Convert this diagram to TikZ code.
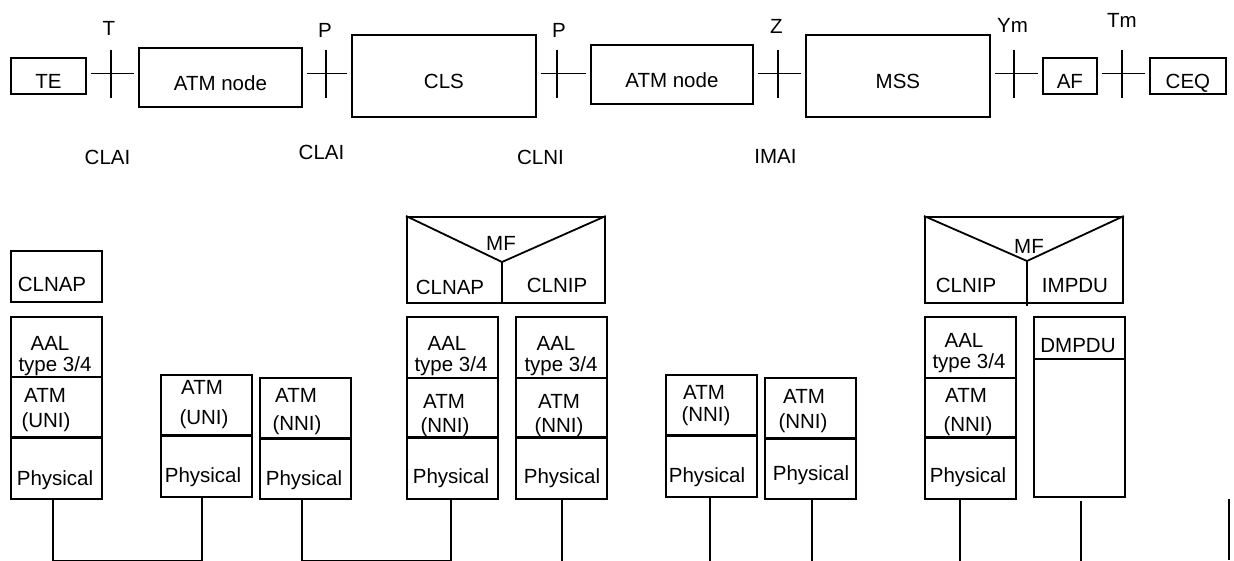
\documentclass[tikz,border=0pt]{standalone}
\usepackage{fontspec}
\setmainfont{Liberation Sans}
\begin{document}
\begin{tikzpicture}[x=1pt, y=-1pt, line width=1.8pt,
  font=\fontsize{20.5}{24}\selectfont,
  unit/.style={draw, anchor=north west, inner sep=0pt, text height=26pt, text depth=0pt},
  layer/.style={draw, anchor=north west, inner sep=0pt, minimum width=91pt},
  lbl/.style={inner sep=0pt, anchor=base}]
\useasboundingbox (0,0) rectangle (1234,560);

% reference configuration
\node[unit, minimum width=75pt, minimum height=36pt] (te) at (10,57) {TE};
\node[unit, minimum width=163pt, minimum height=59pt] (atma) at (138,47) {ATM node};
\node[unit, minimum width=184pt, minimum height=82pt] (cls) at (351,34) {CLS};
\node[unit, minimum width=162pt, minimum height=59pt] (atmb) at (590,44) {ATM node};
\node[unit, minimum width=184pt, minimum height=82pt] (mss) at (805,34) {MSS};
\node[unit, minimum width=54pt, minimum height=36pt] (af) at (1042,57) {AF};
\node[unit, minimum width=76pt, minimum height=36pt] (ceq) at (1149,57) {CEQ};

\coordinate (rt) at (111,73.5);
\coordinate (rpa) at (326,73.5);
\coordinate (rpb) at (557,73.5);
\coordinate (rz) at (778,73.5);
\coordinate (rym) at (1014,73.5);
\coordinate (rtm) at (1122,73.5);
\foreach \a/\b/\p in {te/atma/rt, atma/cls/rpa, cls/atmb/rpb, atmb/mss/rz, mss/af/rym, af/ceq/rtm} {
  \draw ([xshift=4pt]\a.east |- \p) -- ([xshift=-4pt]\b.west |- \p);
  \draw (\p) ++(0,-24) -- ++(0,48);
}

\node[lbl] (tlab) at (109,35) {T};
\node[lbl] (palab) at (325,37) {P};
\node[lbl] (pblab) at (559,37) {P};
\node[lbl] (zlab) at (776.5,33) {Z};
\node[lbl] (ymlab) at (1012.5,32) {Ym};
\node[lbl] (tmlab) at (1122,27) {Tm};
\node[lbl] (claia) at (107.5,164) {CLAI};
\node[lbl] (claib) at (321.5,159) {CLAI};
\node[lbl] (clni) at (540.5,164) {CLNI};
\node[lbl] (imai) at (775.5,163) {IMAI};

% TE stack
\node[layer, minimum height=51pt] (clnapa) at (10,250) {};
\node[layer, minimum height=60pt] (aal1) at (10,316) {};
\node[layer, minimum height=61pt] (atm1) at (10,376) {};
\node[layer, minimum height=61pt] (phy1) at (10,437) {};
\node[lbl] (clnapat) at (52,291) {CLNAP};
\node[lbl] (aal1t) at (50,350) {AAL};
\node[lbl] (typ1t) at (55,371) {type 3/4};
\node[lbl] (atm1t) at (45,402) {ATM};
\node[lbl] (uni1t) at (46,427) {(UNI)};
\node[lbl] (phy1t) at (55,485) {Physical};

% ATM node (UNI/NNI)
\node[layer, minimum height=61pt] (atm2) at (160,374) {};
\node[layer, minimum height=61pt] (phy2) at (160,435) {};
\node[lbl] (atm2t) at (202,394) {ATM};
\node[lbl] (uni2t) at (204,424) {(UNI)};
\node[lbl] (phy2t) at (203,482) {Physical};
\node[layer, minimum height=61pt] (atm3) at (259,377) {};
\node[layer, minimum height=60pt] (phy3) at (259,438) {};
\node[lbl] (atm3t) at (296,402) {ATM};
\node[lbl] (nni3t) at (297,430) {(NNI)};
\node[lbl] (phy3t) at (304,485) {Physical};

% CLS
\node[layer, minimum width=198pt, minimum height=86pt] (mfa) at (406,216) {};
\coordinate (apexa) at (502,262);
\draw (mfa.north west) -- (apexa) -- (mfa.north east);
\draw (apexa) -- (apexa |- mfa.south);
\node[lbl] (mfat) at (501,250) {MF};
\node[lbl] (clnapbt) at (450,294) {CLNAP};
\node[lbl] (clnipat) at (557,292) {CLNIP};
\node[layer, minimum height=61pt] (aal4) at (406,316) {};
\node[layer, minimum height=60pt] (atm4) at (406,377) {};
\node[layer, minimum height=61pt] (phy4) at (406,437) {};
\node[lbl] (aal4t) at (447,350) {AAL};
\node[lbl] (typ4t) at (451,371) {type 3/4};
\node[lbl] (atm4t) at (444,408) {ATM};
\node[lbl] (nni4t) at (445,432) {(NNI)};
\node[lbl] (phy4t) at (451,483) {Physical};
\node[layer, minimum height=61pt] (aal5) at (515,316) {};
\node[layer, minimum height=60pt] (atm5) at (515,377) {};
\node[layer, minimum height=61pt] (phy5) at (515,437) {};
\node[lbl] (aal5t) at (556,350) {AAL};
\node[lbl] (typ5t) at (561,371) {type 3/4};
\node[lbl] (atm5t) at (559,408) {ATM};
\node[lbl] (nni5t) at (559,432) {(NNI)};
\node[lbl] (phy5t) at (562,483) {Physical};

% ATM node (NNI)
\node[layer, minimum height=61pt] (atm6) at (665,374) {};
\node[layer, minimum height=61pt] (phy6) at (665,435) {};
\node[lbl] (atm6t) at (704,399) {ATM};
\node[lbl] (nni6t) at (706,421) {(NNI)};
\node[lbl] (phy6t) at (707,482) {Physical};
\node[layer, minimum height=61pt] (atm7) at (764,377) {};
\node[layer, minimum height=60pt] (phy7) at (764,438) {};
\node[lbl] (atm7t) at (804,403) {ATM};
\node[lbl] (nni7t) at (803,428) {(NNI)};
\node[lbl] (phy7t) at (811,480) {Physical};

% MSS
\node[layer, minimum width=198pt, minimum height=86pt] (mfb) at (924,216) {};
\coordinate (apexb) at (1027,261);
\draw (mfb.north west) -- (apexb) -- (mfb.north east);
\draw (apexb) -- ([yshift=-2pt]apexb |- mfb.south);
\node[lbl] (mfbt) at (1029,253) {MF};
\node[lbl] (clnipbt) at (966,292) {CLNIP};
\node[lbl] (impdut) at (1075,292) {IMPDU};
\node[layer, minimum height=61pt] (aal8) at (924,316) {};
\node[layer, minimum height=60pt] (atm8) at (924,377) {};
\node[layer, minimum height=61pt] (phy8) at (924,437) {};
\node[lbl] (aal8t) at (964,347) {AAL};
\node[lbl] (typ8t) at (969,368) {type 3/4};
\node[lbl] (atm8t) at (966,402) {ATM};
\node[lbl] (nni8t) at (968,431) {(NNI)};
\node[lbl] (phy8t) at (968,482) {Physical};
\node[layer, minimum height=42pt] (dmp) at (1033,316) {};
\node[layer, minimum height=138pt] (dmpl) at (1033,358) {};
\node[lbl] (dmpt) at (1078,352) {DMPDU};

% heavier ATM/physical boundary
\foreach \n in {1,...,8}
  \draw[line width=2.6pt] (phy\n.north west) -- (phy\n.north east);

% physical links
\draw ([xshift=-3.5pt]phy1.south) -- ++(0,61) -| ([xshift=-4.5pt]phy2.south);
\draw ([xshift=-3.5pt]phy3.south) -- ++(0,61) -| ([xshift=-1.5pt]phy4.south);
\draw ([xshift=0.5pt]phy5.south) -- ++(0,62);
\draw ([xshift=-1.5pt]phy6.south) -- ++(0,64);
\draw ([xshift=1.5pt]phy7.south) -- ++(0,62);
\draw ([xshift=-10.5pt]phy8.south) -- ++(0,62);
\draw ([xshift=1.5pt,yshift=-3pt]dmpl.south) -- ++(0,61);
\coordinate (cend) at (1229,499);
\draw (cend) -- ++(0,61);
\end{tikzpicture}
\end{document}
